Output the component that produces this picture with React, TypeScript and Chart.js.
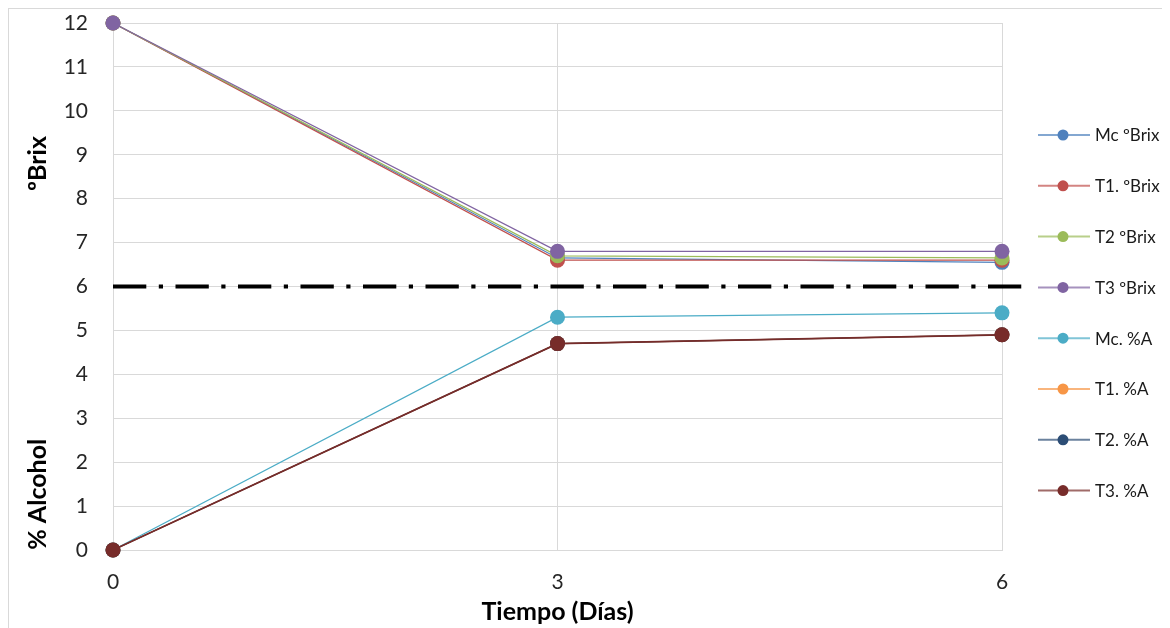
import React, { useEffect, useRef } from "react";
import { Chart, registerables } from "chart.js";

Chart.register(...registerables);

// ---- data ----
const days = [0, 3, 6];
const mcBrix = [12, 6.65, 6.55];
const t1Brix = [12, 6.6, 6.6];
const t2Brix = [12, 6.7, 6.65];
const t3Brix = [12, 6.8, 6.8];
const mcAlc = [0, 5.3, 5.4];
const t1Alc = [0, 4.7, 4.9];
const t2Alc = [0, 4.7, 4.9];
const t3Alc = [0, 4.7, 4.9];
const seriesValues = [mcBrix, t1Brix, t2Brix, t3Brix, mcAlc, t1Alc, t2Alc, t3Alc];
const seriesNames = ["Mc ºBrix", "T1. ºBrix", "T2 ºBrix", "T3 ºBrix", "Mc. %A", "T1. %A", "T2. %A", "T3. %A"];
const seriesColors = ["#4F81BD", "#C0504D", "#9BBB59", "#8064A2", "#4BACC6", "#F79646", "#2C4D75", "#772C2A"];
const thresholdX = [0, 6.13];
const thresholdY = [6, 6];
const yTitleBrix = "ºBrix";
const yTitleAlcohol = "% Alcohol";
const xTitle = "Tiempo (Días)";
const brixTitleAt = 8.8;
const alcoholTitleAt = 1.27;

const FONT = "Lato, 'Open Sans', sans-serif";

const overlayPlugin = {
  id: "overlay",
  afterDraw(chart: any) {
    const ctx = chart.ctx;
    const ys = chart.scales.y;
    ctx.save();
    // y axis titles (two text boxes)
    ctx.fillStyle = "#000";
    ctx.font = `bold 25px ${FONT}`;
    ctx.textAlign = "center";
    ctx.textBaseline = "middle";
    const titles: [string, number][] = [
      [yTitleBrix, brixTitleAt],
      [yTitleAlcohol, alcoholTitleAt],
    ];
    titles.forEach(([t, v]) => {
      ctx.save();
      ctx.translate(29, ys.getPixelForValue(v));
      ctx.rotate(-Math.PI / 2);
      ctx.fillText(t, 0, 0);
      ctx.restore();
    });
    // legend
    const startY = 126;
    const step = 50.8;
    ctx.font = `17px ${FONT}`;
    ctx.textAlign = "left";
    for (let i = 0; i < seriesNames.length; i++) {
      const cy = startY + i * step;
      const col = seriesColors[i];
      ctx.strokeStyle = col;
      ctx.globalAlpha = 0.7;
      ctx.lineWidth = 2;
      ctx.beginPath();
      ctx.moveTo(1029, cy);
      ctx.lineTo(1081, cy);
      ctx.stroke();
      ctx.globalAlpha = 1;
      ctx.fillStyle = col;
      ctx.beginPath();
      ctx.arc(1054, cy, 5.5, 0, Math.PI * 2);
      ctx.fill();
      ctx.fillStyle = "#1a1a1a";
      ctx.fillText(seriesNames[i], 1086, cy + 1);
    }
    ctx.restore();
  },
};

export default function App() {
  const ref = useRef<HTMLCanvasElement | null>(null);
  useEffect(() => {
    if (!ref.current) return;
    const datasets: any[] = seriesValues.map((vals, i) => ({
      label: seriesNames[i],
      data: days.map((d, j) => ({ x: d, y: vals[j] })),
      borderColor: seriesColors[i],
      backgroundColor: seriesColors[i],
      borderWidth: i === 7 ? 1.75 : 1.25,
      pointRadius: 7.5,
      pointBorderWidth: 0,
      pointBackgroundColor: seriesColors[i],
      pointHoverRadius: 7.5,
      tension: 0,
      clip: false,
      order: 20 - i,
    }));
    datasets.push({
      label: "ref",
      data: thresholdX.map((x, j) => ({ x, y: thresholdY[j] })),
      borderColor: "#000",
      borderWidth: 4.2,
      borderDash: [33.3, 12.5, 4.2, 12.5],
      pointRadius: 0,
      clip: false,
      order: 50,
    });
    const chart = new Chart(ref.current, {
      type: "line",
      data: { datasets },
      options: {
        animation: false,
        responsive: false,
        maintainAspectRatio: false,
        layout: { padding: { top: 14, right: 165, bottom: 0, left: 0 } },
        plugins: { legend: { display: false }, tooltip: { enabled: false } },
        scales: {
          x: {
            type: "linear",
            min: 0,
            max: 6,
            ticks: { stepSize: 3, padding: 20, color: "#262626", font: { family: FONT, size: 21 } },
            grid: { color: "#d9d9d9", lineWidth: 1, drawTicks: false },
            border: { color: "#d9d9d9", width: 1 },
            title: {
              display: true,
              text: xTitle,
              color: "#000",
              font: { family: FONT, size: 25, weight: "bold" },
              padding: { top: 0, bottom: 12 },
            },
            afterFit: (s: any) => {
              s.height = 89;
            },
          },
          y: {
            type: "linear",
            min: 0,
            max: 12,
            ticks: { stepSize: 1, padding: 25, color: "#262626", font: { family: FONT, size: 21 } },
            grid: { color: "#d9d9d9", lineWidth: 1, drawTicks: false },
            border: { color: "#d9d9d9", width: 1 },
            afterFit: (s: any) => {
              s.width = 104;
              s.paddingTop = 0;
              s.paddingBottom = 0;
            },
          },
        },
      },
      plugins: [overlayPlugin],
    });
    return () => chart.destroy();
  }, []);
  return (
    <div style={{ width: 1158, height: 630, border: "1px solid #d9d9d9", background: "#fff" }}>
      <canvas ref={ref} width={1158} height={630} style={{ display: "block", width: 1158, height: 630 }} />
    </div>
  );
}
